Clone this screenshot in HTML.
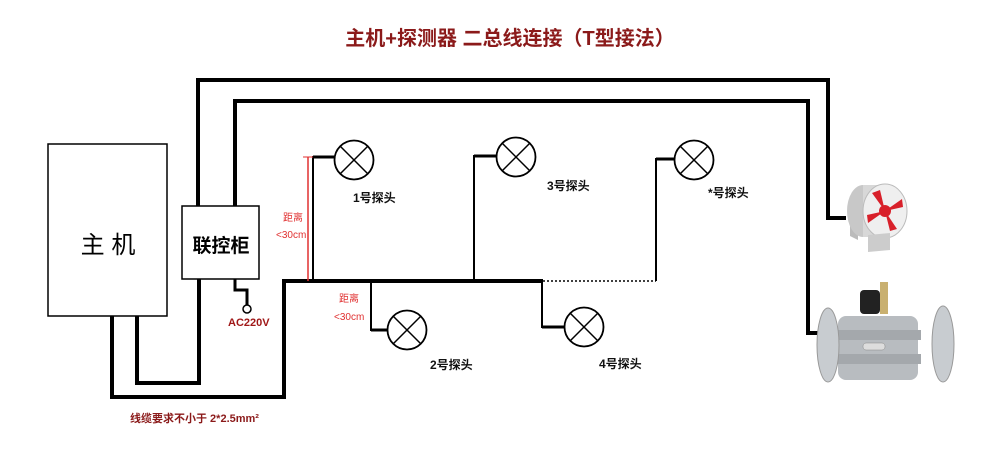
<!DOCTYPE html>
<html><head><meta charset="utf-8"><style>
body{margin:0;background:#fff;}
svg text{font-family:"Liberation Sans","Noto Sans CJK SC",sans-serif;}
</style></head><body>
<svg width="1000" height="453" viewBox="0 0 1000 453" xmlns="http://www.w3.org/2000/svg">
<text x="510" y="45" text-anchor="middle" font-size="20" font-weight="bold" fill="#8b1a1a">主机+探测器 二总线连接（T型接法）</text>
<g fill="none" stroke="#000" stroke-width="4">
<polyline points="198,206 198,80 828,80 828,218 846,218"/>
<polyline points="235,206 235,101 808,101 808,333 820,333"/>
<polyline points="112,316 112,397 284,397 284,281 543,281"/>
<polyline points="137,316 137,383 199,383 199,279"/>
<polyline points="235,279 235,290 247,290 247,305" stroke-width="3"/>
</g>
<g fill="none" stroke="#000" stroke-width="2">
<polyline points="313,281 313,157 334,157"/>
<polyline points="474,281 474,156 496,156"/>
<polyline points="656,281 656,159 674,159"/>
<polyline points="371,281 371,330 387,330"/>
<polyline points="542,281 542,327 564,327"/>
<line x1="543" y1="281" x2="656" y2="281" stroke-dasharray="2,2" stroke-width="1.5"/>
</g>
<g stroke="#000" stroke-width="3"><line x1="313" y1="157" x2="334" y2="157"/><line x1="474" y1="156" x2="496" y2="156"/><line x1="656" y1="159" x2="674" y2="159"/><line x1="371" y1="330" x2="387" y2="330"/><line x1="542" y1="327" x2="564" y2="327"/></g>
<line x1="308" y1="157" x2="308" y2="281" stroke="#e03030" stroke-width="1.5"/>
<line x1="303" y1="157" x2="313" y2="157" stroke="#e03030" stroke-width="1"/>
<circle cx="247" cy="309" r="4" fill="#fff" stroke="#000" stroke-width="1.5"/>
<rect x="48" y="144" width="119" height="172" fill="#fff" stroke="#000" stroke-width="1.5"/>
<text x="108" y="253" text-anchor="middle" font-size="24">主 机</text>
<rect x="182" y="206" width="77" height="73" fill="#fff" stroke="#000" stroke-width="1.5"/>
<text x="221" y="252" text-anchor="middle" font-size="19" font-weight="bold">联控柜</text>
<g fill="#fff" stroke="#000" stroke-width="1.8">
<circle cx="354" cy="160" r="19.5"/><circle cx="516" cy="157" r="19.5"/><circle cx="694" cy="160" r="19.5"/><circle cx="407" cy="330" r="19.5"/><circle cx="584" cy="327" r="19.5"/>
</g>
<g stroke="#000" stroke-width="1.5">
<path d="M340,146 L368,174 M368,146 L340,174"/>
<path d="M502,143 L530,171 M530,143 L502,171"/>
<path d="M680,146 L708,174 M708,146 L680,174"/>
<path d="M393,316 L421,344 M421,316 L393,344"/>
<path d="M570,313 L598,341 M598,313 L570,341"/>
</g>
<g font-size="12" font-weight="bold" fill="#111">
<text x="353" y="202">1号探头</text>
<text x="547" y="190">3号探头</text>
<text x="708" y="197">*号探头</text>
<text x="430" y="369">2号探头</text>
<text x="599" y="368">4号探头</text>
</g>
<g font-size="10" fill="#e03030">
<text x="283" y="221">距离</text><text x="276" y="238">&lt;30cm</text>
<text x="339" y="302">距离</text><text x="334" y="320">&lt;30cm</text>
</g>
<text x="228" y="326" font-size="11" font-weight="bold" fill="#a01818">AC220V</text>
<text x="130" y="422" font-size="11" font-weight="bold" fill="#8b1a1a">线缆要求不小于  2*2.5mm²</text>
<!-- fan -->
<g>
<polygon points="850,215 858,208 858,240 850,236" fill="#bbb"/>
<ellipse cx="863" cy="211" rx="16" ry="26" fill="#c8c8c8"/>
<rect x="863" y="185" width="22" height="52" fill="#d8d8d8"/>
<ellipse cx="885" cy="211" rx="22" ry="27" fill="#efefef" stroke="#bbb"/>
<g fill="#d8202a"><path d="M885,211 L872,193 L880,190Z"/><path d="M885,211 L902,199 L903,207Z"/><path d="M885,211 L897,229 L890,231Z"/><path d="M885,211 L868,223 L867,215Z"/><circle cx="885" cy="211" r="6"/></g>
<polygon points="868,235 890,233 890,250 868,252" fill="#ccc"/>
</g>
<!-- valve -->
<g>
<rect x="880" y="282" width="8" height="32" fill="#c9b070"/>
<rect x="860" y="290" width="20" height="24" rx="4" fill="#222"/>
<rect x="838" y="316" width="80" height="64" rx="8" fill="#b8bcc0"/>
<rect x="835" y="330" width="86" height="10" fill="#a4a8ac"/>
<rect x="835" y="354" width="86" height="10" fill="#a4a8ac"/>
<ellipse cx="828" cy="345" rx="11" ry="37" fill="#c8ccd0" stroke="#999"/>
<ellipse cx="943" cy="344" rx="11" ry="38" fill="#c8ccd0" stroke="#999"/>
<rect x="863" y="343" width="22" height="7" rx="3" fill="#ddd" stroke="#888" stroke-width="0.5"/>
</g>
</svg>
</body></html>
